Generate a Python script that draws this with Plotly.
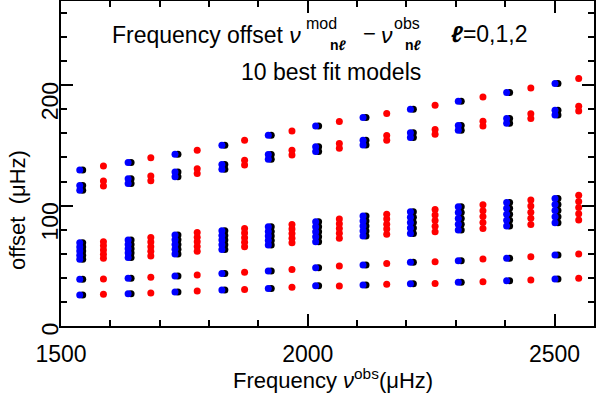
import plotly.graph_objects as go

# observed frequencies (muHz) of the modes, by degree
nu_l0 = [1538, 1636, 1731, 1826, 1920, 2016, 2112, 2208, 2305, 2403, 2501]
nu_l1 = [1586, 1682, 1776, 1872, 1968, 2064, 2160, 2258, 2355, 2452, 2549]
nu_l2 = [1544, 1642, 1737, 1832, 1926, 2022, 2118, 2214, 2311, 2409, 2507]

# offsets nu_mod - nu_obs for the 10 best fit models (one row per model)
off_l0 = [
    [129.5, 135.8, 142.7, 150.2, 158.5, 166.2, 173.2, 180.1, 186.7, 193.9, 201.4],
    [116.8, 122.3, 127.9, 134.2, 142.5, 148.9, 154.4, 160.5, 166.6, 172.4, 179.3],
    [112.8, 118.3, 123.9, 130.2, 138.5, 144.9, 150.4, 156.5, 162.6, 168.4, 175.3],
    [69.1, 71.4, 75.5, 79.1, 82.4, 86.6, 91.3, 94.9, 99.0, 102.7, 106.0],
    [65.7, 67.8, 71.6, 75.2, 78.6, 82.5, 87.2, 90.4, 94.2, 97.8, 100.9],
    [62.3, 64.2, 67.7, 71.4, 74.8, 78.3, 83.0, 85.9, 89.4, 92.9, 95.9],
    [58.8, 60.6, 63.7, 67.5, 71.0, 74.2, 78.9, 81.4, 84.5, 87.9, 90.8],
    [55.4, 57.0, 59.8, 63.6, 67.2, 70.0, 74.7, 76.9, 79.7, 83.0, 85.7],
    [38.8, 39.6, 41.5, 43.7, 45.6, 48.4, 50.6, 52.9, 54.2, 56.2, 58.9],
    [25.7, 26.8, 28.2, 29.9, 31.2, 33.4, 34.0, 35.1, 36.3, 37.6, 39.0],
]
off_l1 = [
    [133.0, 139.7, 146.0, 154.4, 162.0, 169.9, 176.5, 183.4, 190.3, 197.8, 205.6],
    [120.4, 124.6, 130.6, 137.8, 146.1, 151.6, 158.3, 163.3, 170.2, 176.3, 182.6],
    [116.4, 120.6, 126.6, 133.8, 142.1, 147.6, 154.3, 159.3, 166.2, 172.3, 178.6],
    [70.0, 73.6, 77.7, 81.0, 84.4, 88.8, 92.9, 96.8, 100.7, 104.6, 108.7],
    [66.6, 69.7, 73.8, 77.2, 80.6, 84.9, 88.8, 92.2, 95.8, 99.6, 103.5],
    [63.1, 65.9, 70.0, 73.4, 76.8, 80.9, 84.6, 87.6, 90.9, 94.5, 98.4],
    [59.7, 62.0, 66.1, 69.6, 72.9, 77.0, 80.5, 82.9, 85.9, 89.5, 93.2],
    [56.2, 58.1, 62.2, 65.8, 69.1, 73.0, 76.3, 78.3, 81.0, 84.4, 88.0],
    [39.0, 40.4, 42.3, 44.6, 47.0, 49.8, 52.0, 53.4, 55.6, 57.5, 59.8],
    [26.3, 27.4, 29.0, 30.4, 32.1, 33.2, 34.6, 35.4, 36.8, 38.2, 39.6],
]
off_l2 = off_l0  # l=2 offsets sit on top of the l=0 ones

FONT = "Liberation Sans, Arial, sans-serif"

fig = go.Figure()

def add_series(nu, offs, color):
    xs, ys = [], []
    for row in offs:
        xs += nu
        ys += row
    fig.add_trace(go.Scatter(x=xs, y=ys, mode="markers",
                             marker=dict(color=color, size=7, line=dict(width=0)),
                             showlegend=False))

add_series(nu_l2, off_l2, "black")
add_series(nu_l0, off_l0, "#0000ff")
add_series(nu_l1, off_l1, "#ff0000")

# plot area in pixels
L, R, T, B = 61, 594, 1, 326
W, H = 600, 395

def pp(x, y):
    return (x - L) / (R - L), (B - y) / (B - T)

def txt(x, y, s, size, anchor="left", angle=0):
    px, py = pp(x, y)
    fig.add_annotation(x=px, y=py, xref="paper", yref="paper", text=s,
                       showarrow=False, xanchor=anchor, yanchor="middle",
                       textangle=angle, font=dict(family=FONT, size=size, color="black"))

txt(110, 35, "Frequency offset <i>ν</i>", 23)
txt(304, 23, "mod", 16)
txt(328, 45, "<b>n<i>ℓ</i></b>", 14)
txt(361, 33, "−", 22)
txt(379, 35, "<i>ν</i>", 23)
txt(392, 23, "obs", 16)
txt(403, 45, "<b>n<i>ℓ</i></b>", 14)
txt(449, 34, "<b><i>ℓ</i></b>=0,1,2", 23)
txt(331, 72, "10 best fit models", 23, anchor="center")
txt(333, 379, "Frequency <i>ν</i><sup>obs</sup>(μHz)", 22, anchor="center")
txt(17, 210, "offset  (μHz)", 22, anchor="center", angle=-90)

axis_common = dict(
    showline=True, linecolor="black", linewidth=2, mirror="ticks",
    ticks="inside", ticklen=12, tickwidth=2, tickcolor="black",
    showgrid=False, zeroline=False, automargin=False,
    tickfont=dict(family=FONT, size=23, color="black"),
)

fig.update_xaxes(range=[1500, 2580], tickvals=[1500, 2000, 2500],
                 ticklabelstandoff=6,
                 minor=dict(dtick=100, tick0=1500, ticks="inside", ticklen=6,
                            tickwidth=2, tickcolor="black", showgrid=False),
                 **axis_common)
fig.update_yaxes(range=[0, 270], tickvals=[0, 100, 200], tickangle=-89.9,
                 ticklabelstandoff=8,
                 minor=dict(dtick=20, tick0=0, ticks="inside", ticklen=6,
                            tickwidth=2, tickcolor="black", showgrid=False),
                 **axis_common)

fig.update_layout(
    width=W, height=H,
    margin=dict(l=L, r=W - R, t=T, b=H - B),
    plot_bgcolor="white", paper_bgcolor="white",
)

fig.write_html("out.html", config={"displayModeBar": False},
               post_script="document.body.style.margin='0';")
